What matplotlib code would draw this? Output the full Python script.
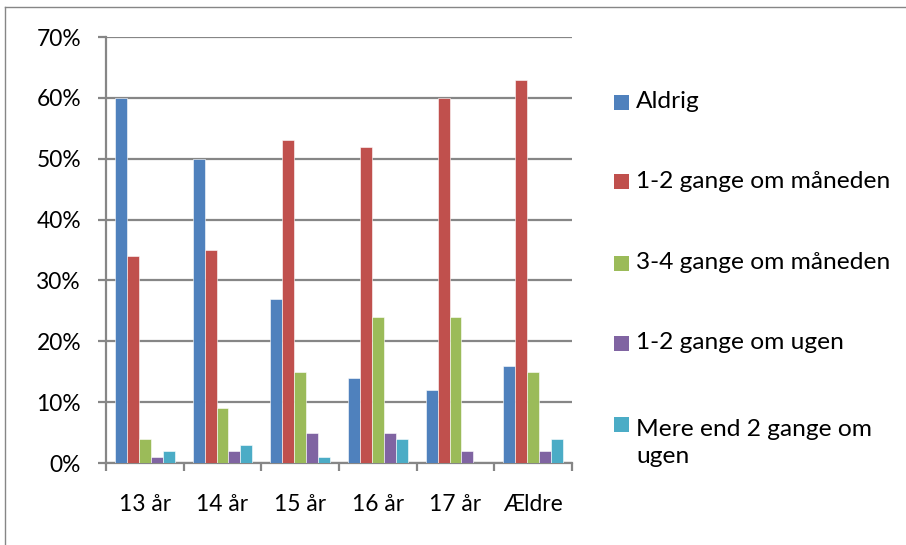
import matplotlib
matplotlib.use("Agg")
import matplotlib.pyplot as plt
import numpy as np
from matplotlib.patches import Rectangle
from matplotlib.lines import Line2D

categories = ["13 år", "14 år", "15 år", "16 år", "17 år", "Ældre"]
series_names = ["Aldrig", "1-2 gange om måneden", "3-4 gange om måneden",
                "1-2 gange om ugen", "Mere end 2 gange om\nugen"]
aldrig = [60, 50, 27, 14, 12, 16]
maaned_12 = [34, 35, 53, 52, 60, 63]
maaned_34 = [4, 9, 15, 24, 24, 15]
ugen_12 = [1, 2, 5, 5, 2, 2]
ugen_mere = [2, 3, 1, 4, 0, 4]
y_ticks = [0, 10, 20, 30, 40, 50, 60, 70]
colors = ["#4F81BD", "#C0504D", "#9BBB59", "#8064A2", "#4BACC6"]

values = [aldrig, maaned_12, maaned_34, ugen_12, ugen_mere]

plt.rcParams['font.family'] = ['Lato', 'DejaVu Sans']

fig = plt.figure(figsize=(9.06, 5.45), dpi=100)
renderer = fig.canvas.get_renderer()


def fit_size(text, target_px, base=16):
    t = fig.text(0, 0, text, fontsize=base)
    wpx = t.get_window_extent(renderer).width
    t.remove()
    return base * target_px / wpx


tick_fs = (fit_size("70%", 44) + fit_size("13 år", 53)) / 2
leg_fs = fit_size("1-2 gange om måneden", 255)

ax = fig.add_axes([106/906, 1-463/545, (572-106)/906, (463-37)/545])

n = len(values)
w = 1/6.5
x = np.arange(len(categories))
for i, (vals, c) in enumerate(zip(values, colors)):
    offs = (i - (n-1)/2) * w
    ax.bar(x + offs, vals, width=w, color=c, edgecolor='white', linewidth=0.4, zorder=3)

ax.set_xlim(-0.5, len(categories)-0.5)
ax.set_ylim(0, 70)
ax.set_yticks(y_ticks)
ax.set_yticklabels([f"{t}%" for t in y_ticks])
ax.yaxis.grid(True, color='#868686', linewidth=1.6, zorder=0)
ax.set_axisbelow(True)

ax.set_xticks(x)
ax.set_xticklabels(categories)
ax.set_xticks(np.arange(len(categories)+1) - 0.5, minor=True)
ax.tick_params(axis='x', which='major', length=0, pad=22, labelsize=tick_fs, colors='black')
ax.tick_params(axis='x', which='minor', length=6, width=1.6, color='#868686')
ax.tick_params(axis='y', length=6, width=1.6, color='#868686', pad=12, labelsize=tick_fs)

for s in ['top', 'right']:
    ax.spines[s].set_visible(False)
for s in ['left', 'bottom']:
    ax.spines[s].set_color('#868686')
    ax.spines[s].set_linewidth(1.6)

# legend (manual)
ys = [102, 182, 263, 343, 424]
line_gap = 33
for name, c, yc in zip(series_names, colors, ys):
    fig.patches.append(Rectangle((614/906, 1-(yc+7.5)/545), 15/906, 15/545,
                                 transform=fig.transFigure, facecolor=c, edgecolor='none'))
    extra = name.count("\n") * line_gap
    t = fig.text(636/906, 1-(yc+6+extra)/545, name, ha='left', va='baseline',
                 fontsize=leg_fs)
    t.set_linespacing(line_gap / (leg_fs * 100/72 * 1.2) * 1.2 / 1.0)

# chart border
fig.add_artist(Line2D([5/906, 5/906], [0, 1-7/545], transform=fig.transFigure, color='#868686', linewidth=1))
fig.add_artist(Line2D([5/906, 1], [1-7/545, 1-7/545], transform=fig.transFigure, color='#868686', linewidth=1))

fig.savefig("out.png", dpi=100)
